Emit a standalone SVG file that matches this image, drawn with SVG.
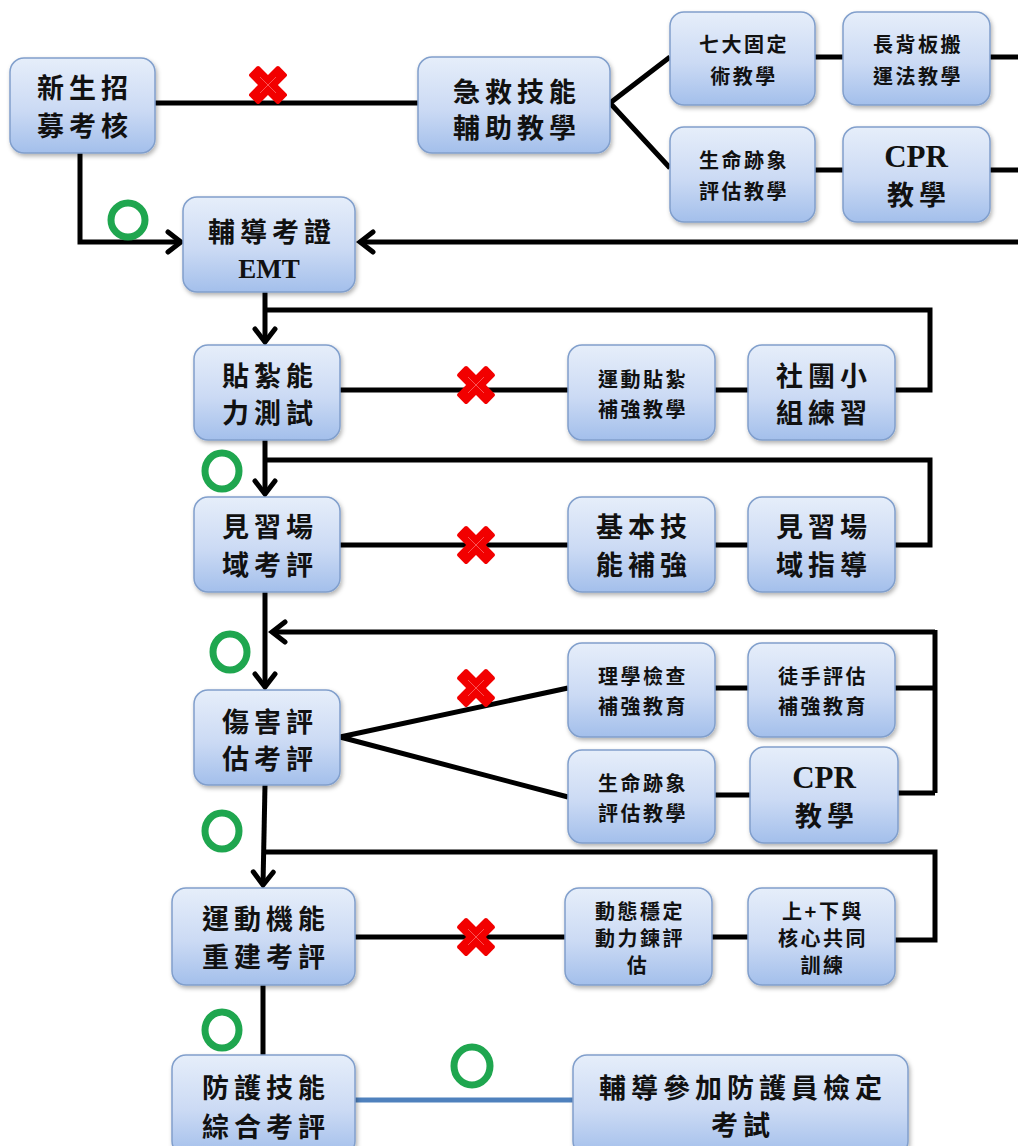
<svg xmlns="http://www.w3.org/2000/svg" width="1018" height="1146" viewBox="0 0 1018 1146">
  <style>
    .box { fill: url(#boxFill); stroke: #819fcc; stroke-width: 1.5; filter: url(#shadow); }
    .t { font-family: "Noto Sans CJK TC", "Noto Sans CJK SC", sans-serif; font-weight: 700; fill: #111; text-anchor: middle; }
    .big { font-size: 27px; letter-spacing: 5px; }
    .small { font-size: 20px; letter-spacing: 2.5px; }
    .lat { font-family: "Liberation Serif", "Noto Sans CJK TC", serif; font-weight: 700; letter-spacing: 0; }
    .wire { fill: none; stroke: #000; stroke-width: 5; stroke-linejoin: miter; }
    .arrow { marker-end: url(#head); }
    .blue { fill: none; stroke: #4f81bd; stroke-width: 5; }
    .ok { fill: none; stroke: #1fa64f; stroke-width: 7; }
  </style>
  <defs>
    <linearGradient id="boxFill" x1="0" y1="0" x2="0" y2="1">
      <stop offset="0" stop-color="#e6eefa"/>
      <stop offset="0.55" stop-color="#cbdaf4"/>
      <stop offset="1" stop-color="#a3bfeb"/>
    </linearGradient>
    <filter id="shadow" x="-10%" y="-10%" width="125%" height="130%">
      <feDropShadow dx="1.5" dy="2.5" stdDeviation="2" flood-color="#000" flood-opacity="0.3"/>
    </filter>
    <marker id="head" viewBox="-16 -13 20 26" refX="0" refY="0" markerWidth="20" markerHeight="26" markerUnits="userSpaceOnUse" orient="auto">
      <path d="M-13,-10 L0,0 L-13,10" fill="none" stroke="#000" stroke-width="5" stroke-linecap="round" stroke-linejoin="miter"/>
    </marker>
    <!-- red fail mark -->
    <g id="fail">
      <rect x="-21" y="-7" width="42" height="14" rx="2" fill="#f20000" transform="rotate(45)"/>
      <rect x="-21" y="-7" width="42" height="14" rx="2" fill="#f20000" transform="rotate(-45)"/>
      <path d="M-8,-8 L8,8 M-8,8 L8,-8" stroke="#ff8a8a" stroke-width="1" opacity="0.6"/>
    </g>
  </defs>

  <rect width="1018" height="1146" fill="#fff"/>

  <!-- connectors -->
  <g id="connectors">
    <path class="wire" d="M155,103 H418"/>
    <path class="wire arrow" d="M80,153 V242 H181"/>
    <path class="wire" d="M610,103 L670,57 M610,103 L670,168"/>
    <path class="wire" d="M815,57 H843 M990,57 H1018"/>
    <path class="wire" d="M815,170 H843 M990,170 H1018"/>
    <path class="wire arrow" d="M1018,242 H360"/>
    <path class="wire arrow" d="M265,292 V342"/>
    <path class="wire" d="M265,310 H930 V390 H895"/>
    <path class="wire" d="M340,390 H568 M715,390 H748"/>
    <path class="wire arrow" d="M265,440 V494"/>
    <path class="wire" d="M265,460 H930 V545 H895"/>
    <path class="wire" d="M340,545 H568 M715,545 H748"/>
    <path class="wire arrow" d="M265,592 V687"/>
    <path class="wire arrow" d="M935,632 H272"/>
    <path class="wire" d="M935,630 V793 M895,688 H935 M898,793 H935"/>
    <path class="wire" d="M340,737 L568,688 M340,737 L568,797"/>
    <path class="wire" d="M715,688 H748 M715,795 H750"/>
    <path class="wire arrow" d="M265,785 L263,885"/>
    <path class="wire" d="M263,852 H935 V940 H895"/>
    <path class="wire" d="M355,937 H565 M712,937 H748"/>
    <path class="wire" d="M263,985 V1055"/>
    <path class="blue" d="M355,1100 H573"/>
  </g>

  <!-- pass / fail marks -->
  <g id="marks">
    <use href="#fail" x="268" y="85"/>
    <use href="#fail" x="476" y="385"/>
    <use href="#fail" x="476" y="545"/>
    <use href="#fail" x="476" y="688"/>
    <use href="#fail" x="476" y="937"/>
    <ellipse class="ok" cx="128" cy="220" rx="17" ry="17"/>
    <ellipse class="ok" cx="222" cy="471" rx="17" ry="18"/>
    <ellipse class="ok" cx="230" cy="652" rx="17" ry="18"/>
    <ellipse class="ok" cx="222" cy="831" rx="17" ry="18"/>
    <ellipse class="ok" cx="222" cy="1030" rx="17" ry="18"/>
    <ellipse class="ok" cx="472" cy="1066" rx="18" ry="19"/>
  </g>

  <!-- nodes -->
  <g id="n-recruit">
    <rect class="box" x="10" y="58" width="145" height="95" rx="14"/>
    <text class="t big" x="85" y="98">新生招</text>
    <text class="t big" x="85" y="136">募考核</text>
  </g>
  <g id="n-firstaid">
    <rect class="box" x="418" y="57" width="192" height="96" rx="14"/>
    <text class="t big" x="517" y="102" font-size="29">急救技能</text>
    <text class="t big" x="517" y="138" font-size="29">輔助教學</text>
  </g>
  <g id="n-fixation">
    <rect class="box" x="670" y="12" width="145" height="93" rx="14"/>
    <text class="t small" x="744" y="52">七大固定</text>
    <text class="t small" x="744" y="84">術教學</text>
  </g>
  <g id="n-backboard">
    <rect class="box" x="843" y="12" width="147" height="93" rx="14"/>
    <text class="t small" x="918" y="52">長背板搬</text>
    <text class="t small" x="918" y="84">運法教學</text>
  </g>
  <g id="n-vitals1">
    <rect class="box" x="670" y="127" width="145" height="95" rx="14"/>
    <text class="t small" x="744" y="168">生命跡象</text>
    <text class="t small" x="744" y="199">評估教學</text>
  </g>
  <g id="n-cpr1">
    <rect class="box" x="843" y="127" width="147" height="95" rx="14"/>
    <text class="t lat" x="916" y="167" font-size="31">CPR</text>
    <text class="t big" x="919" y="205">教學</text>
  </g>
  <g id="n-emt">
    <rect class="box" x="183" y="197" width="172" height="95" rx="14"/>
    <text class="t big" x="272" y="242">輔導考證</text>
    <text class="t lat" x="269" y="278" font-size="27">EMT</text>
  </g>
  <g id="n-taping">
    <rect class="box" x="194" y="345" width="146" height="95" rx="14"/>
    <text class="t big" x="270" y="386">貼紮能</text>
    <text class="t big" x="270" y="423">力測試</text>
  </g>
  <g id="n-taping-remedial">
    <rect class="box" x="568" y="345" width="147" height="95" rx="14"/>
    <text class="t small" x="643" y="387">運動貼紮</text>
    <text class="t small" x="643" y="417">補強教學</text>
  </g>
  <g id="n-club">
    <rect class="box" x="748" y="345" width="147" height="95" rx="14"/>
    <text class="t big" x="824" y="386">社團小</text>
    <text class="t big" x="824" y="423">組練習</text>
  </g>
  <g id="n-field">
    <rect class="box" x="194" y="497" width="146" height="95" rx="14"/>
    <text class="t big" x="270" y="537">見習場</text>
    <text class="t big" x="270" y="575">域考評</text>
  </g>
  <g id="n-basic">
    <rect class="box" x="568" y="497" width="147" height="95" rx="14"/>
    <text class="t big" x="644" y="537">基本技</text>
    <text class="t big" x="644" y="575">能補強</text>
  </g>
  <g id="n-field-guide">
    <rect class="box" x="748" y="497" width="147" height="95" rx="14"/>
    <text class="t big" x="824" y="537">見習場</text>
    <text class="t big" x="824" y="575">域指導</text>
  </g>
  <g id="n-injury">
    <rect class="box" x="194" y="690" width="146" height="95" rx="14"/>
    <text class="t big" x="270" y="732">傷害評</text>
    <text class="t big" x="270" y="769">估考評</text>
  </g>
  <g id="n-physical">
    <rect class="box" x="568" y="643" width="147" height="94" rx="14"/>
    <text class="t small" x="643" y="684">理學檢查</text>
    <text class="t small" x="643" y="714">補強教育</text>
  </g>
  <g id="n-manual">
    <rect class="box" x="748" y="643" width="147" height="94" rx="14"/>
    <text class="t small" x="823" y="684">徒手評估</text>
    <text class="t small" x="823" y="714">補強教育</text>
  </g>
  <g id="n-vitals2">
    <rect class="box" x="568" y="750" width="147" height="93" rx="14"/>
    <text class="t small" x="643" y="791">生命跡象</text>
    <text class="t small" x="643" y="821">評估教學</text>
  </g>
  <g id="n-cpr2">
    <rect class="box" x="750" y="747" width="148" height="96" rx="14"/>
    <text class="t lat" x="824" y="788" font-size="31">CPR</text>
    <text class="t big" x="827" y="826">教學</text>
  </g>
  <g id="n-rebuild">
    <rect class="box" x="172" y="888" width="183" height="97" rx="14"/>
    <text class="t big" x="266" y="929">運動機能</text>
    <text class="t big" x="266" y="967">重建考評</text>
  </g>
  <g id="n-dynamic">
    <rect class="box" x="565" y="888" width="147" height="97" rx="14"/>
    <text class="t small" x="640" y="919">動態穩定</text>
    <text class="t small" x="640" y="946">動力鍊評</text>
    <text class="t small" x="638" y="973">估</text>
  </g>
  <g id="n-core">
    <rect class="box" x="748" y="888" width="147" height="97" rx="14"/>
    <text class="t small" x="823" y="919">上+下與</text>
    <text class="t small" x="823" y="946">核心共同</text>
    <text class="t small" x="823" y="973">訓練</text>
  </g>
  <g id="n-final">
    <rect class="box" x="172" y="1055" width="183" height="100" rx="14"/>
    <text class="t big" x="266" y="1098">防護技能</text>
    <text class="t big" x="266" y="1137">綜合考評</text>
  </g>
  <g id="n-exam">
    <rect class="box" x="573" y="1055" width="335" height="100" rx="14"/>
    <text class="t big" x="743" y="1098">輔導參加防護員檢定</text>
    <text class="t big" x="743" y="1135">考試</text>
  </g>
</svg>
